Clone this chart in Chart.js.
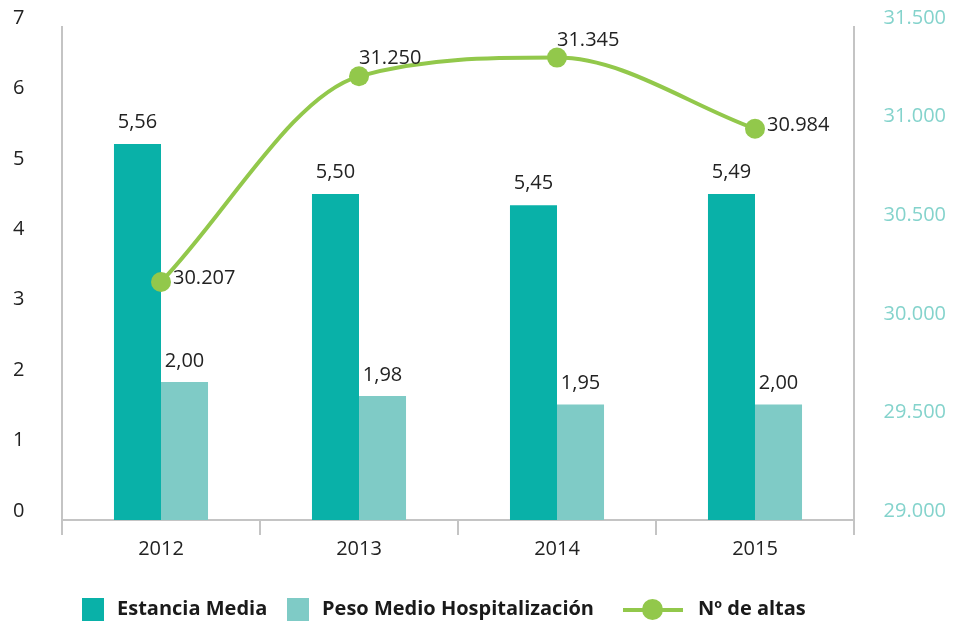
<!DOCTYPE html>
<html>
<head>
<meta charset="utf-8">
<script src="https://cdn.jsdelivr.net/npm/chart.js@4/dist/chart.umd.min.js"></script>
<style>
	html, body { margin: 0; padding: 0; background: #fff; }
	.wrapper { position: relative; width: 954px; height: 623px; }
	.legend { position: absolute; top: 598px; left: 0; width: 954px; height: 24px;
		font-family: "Open Sans", sans-serif; font-weight: bold; font-size: 20px; color: #1a1a1a; }
	.legend .item { position: absolute; top: -2px; height: 24px; line-height: 24px; white-space: nowrap; }
	.legend .box { position: absolute; top: 0; width: 22px; height: 23px; }
	.legend .line { position: absolute; top: 10px; width: 60px; height: 4px; background: #92c84b; }
	.legend .dot { position: absolute; top: 1px; width: 21px; height: 21px; border-radius: 50%; background: #92c84b; }
</style>
</head>
<body>
<div class="wrapper">
	<canvas id="combo" width="954" height="623"></canvas>
	<div class="legend">
		<div class="box" style="left:82px;background:#09b1a8"></div>
		<div class="item" style="left:117px">Estancia Media</div>
		<div class="box" style="left:287px;background:#7fcbc6"></div>
		<div class="item" style="left:322px">Peso Medio Hospitalización</div>
		<div class="line" style="left:623px"></div>
		<div class="dot" style="left:642px"></div>
		<div class="item" style="left:698px">Nº de altas</div>
	</div>
</div>
<script>
// categories
const years = ["2012", "2013", "2014", "2015"];

// bar heights as drawn in the picture (left axis)
const estanciaMedia = [5.34, 4.63, 4.47, 4.63];
const pesoMedio = [1.96, 1.76, 1.64, 1.64];

// label texts printed above the bars
const estanciaLabels = ["5,56", "5,50", "5,45", "5,49"];
const pesoLabels = ["2,00", "1,98", "1,95", "2,00"];

// Nº de altas (right axis)
const altas = [30207, 31250, 31345, 30984];
const altasLabels = ["30.207", "31.250", "31.345", "30.984"];
const altasLabelSide = ["right", "above", "above", "right"];

const DARK = "#09b1a8";
const LIGHT = "#7fcbc6";
const GREEN = "#92c84b";
const AXIS = "#c4c4c4";
const FONT = "'Open Sans', sans-serif";

const fmtThousands = (v) => String(v).replace(/\B(?=(\d{3})+(?!\d))/g, ".");

// draws the value labels (no datalabels plugin offline)
const valueLabels = {
	id: "valueLabels",
	afterDatasetsDraw(chart) {
		const ctx = chart.ctx;
		ctx.save();
		ctx.font = "20px " + FONT;
		ctx.fillStyle = "#222";
		ctx.textBaseline = "alphabetic";

		chart.getDatasetMeta(0).data.forEach((el, i) => {
			ctx.textAlign = "center";
			ctx.fillText(estanciaLabels[i], el.x, el.y - 16);
		});
		chart.getDatasetMeta(1).data.forEach((el, i) => {
			ctx.textAlign = "center";
			ctx.fillText(pesoLabels[i], el.x, el.y - 15);
		});
		chart.getDatasetMeta(2).data.forEach((el, i) => {
			ctx.textAlign = "left";
			if (altasLabelSide[i] === "right") {
				ctx.fillText(altasLabels[i], el.x + 12, el.y + 2);
			} else {
				ctx.fillText(altasLabels[i], el.x, el.y - 12);
			}
		});
		ctx.restore();
	},
};

const ctx = document.getElementById("combo").getContext("2d");

new Chart(ctx, {
	type: "bar",
	data: {
		labels: years,
		datasets: [
			{
				label: "Estancia Media",
				data: estanciaMedia,
				backgroundColor: DARK,
				yAxisID: "y",
				order: 1,
				barPercentage: 1,
				categoryPercentage: 0.475,
			},
			{
				label: "Peso Medio Hospitalización",
				data: pesoMedio,
				backgroundColor: LIGHT,
				yAxisID: "y",
				order: 1,
				barPercentage: 1,
				categoryPercentage: 0.475,
			},
			{
				type: "line",
				label: "Nº de altas",
				data: altas,
				borderColor: GREEN,
				backgroundColor: GREEN,
				borderWidth: 4,
				pointRadius: 10,
				pointHoverRadius: 10,
				pointBorderWidth: 0,
				cubicInterpolationMode: "monotone",
				fill: false,
				yAxisID: "y1",
				order: 0,
			},
		],
	},
	options: {
		responsive: false,
		animation: false,
		layout: { padding: { top: 27, left: 13, right: 8, bottom: 0 } },
		plugins: {
			legend: { display: false },
			tooltip: { enabled: false },
		},
		scales: {
			x: {
				grid: {
					display: true,
					drawOnChartArea: false,
					drawTicks: true,
					tickLength: 15,
					color: AXIS,
					lineWidth: 2,
				},
				border: { display: true, color: AXIS, width: 2 },
				ticks: {
					font: { family: FONT, size: 20 },
					color: "#222",
					padding: 2,
				},
				afterFit: (scale) => {
					scale.height = 103;
				},
			},
			y: {
				position: "left",
				min: 0,
				max: 7,
				grid: { display: false, drawTicks: false },
				border: { display: true, color: AXIS, width: 2 },
				ticks: {
					stepSize: 1,
					font: { family: FONT, size: 20 },
					color: "#222",
					padding: 0,
					crossAlign: "far",
					labelOffset: -9,
				},
				afterFit: (scale) => {
					scale.width = 49;
				},
			},
			y1: {
				position: "right",
				min: 29000,
				max: 31500,
				grid: { display: false, drawTicks: false },
				border: { display: true, color: AXIS, width: 2 },
				ticks: {
					stepSize: 500,
					font: { family: FONT, size: 20 },
					color: "#84d3cc",
					padding: 0,
					crossAlign: "far",
					labelOffset: -9,
					callback: (v) => fmtThousands(v),
				},
				afterFit: (scale) => {
					scale.width = 92;
				},
			},
		},
	},
	plugins: [valueLabels],
});
</script>
</body>
</html>
